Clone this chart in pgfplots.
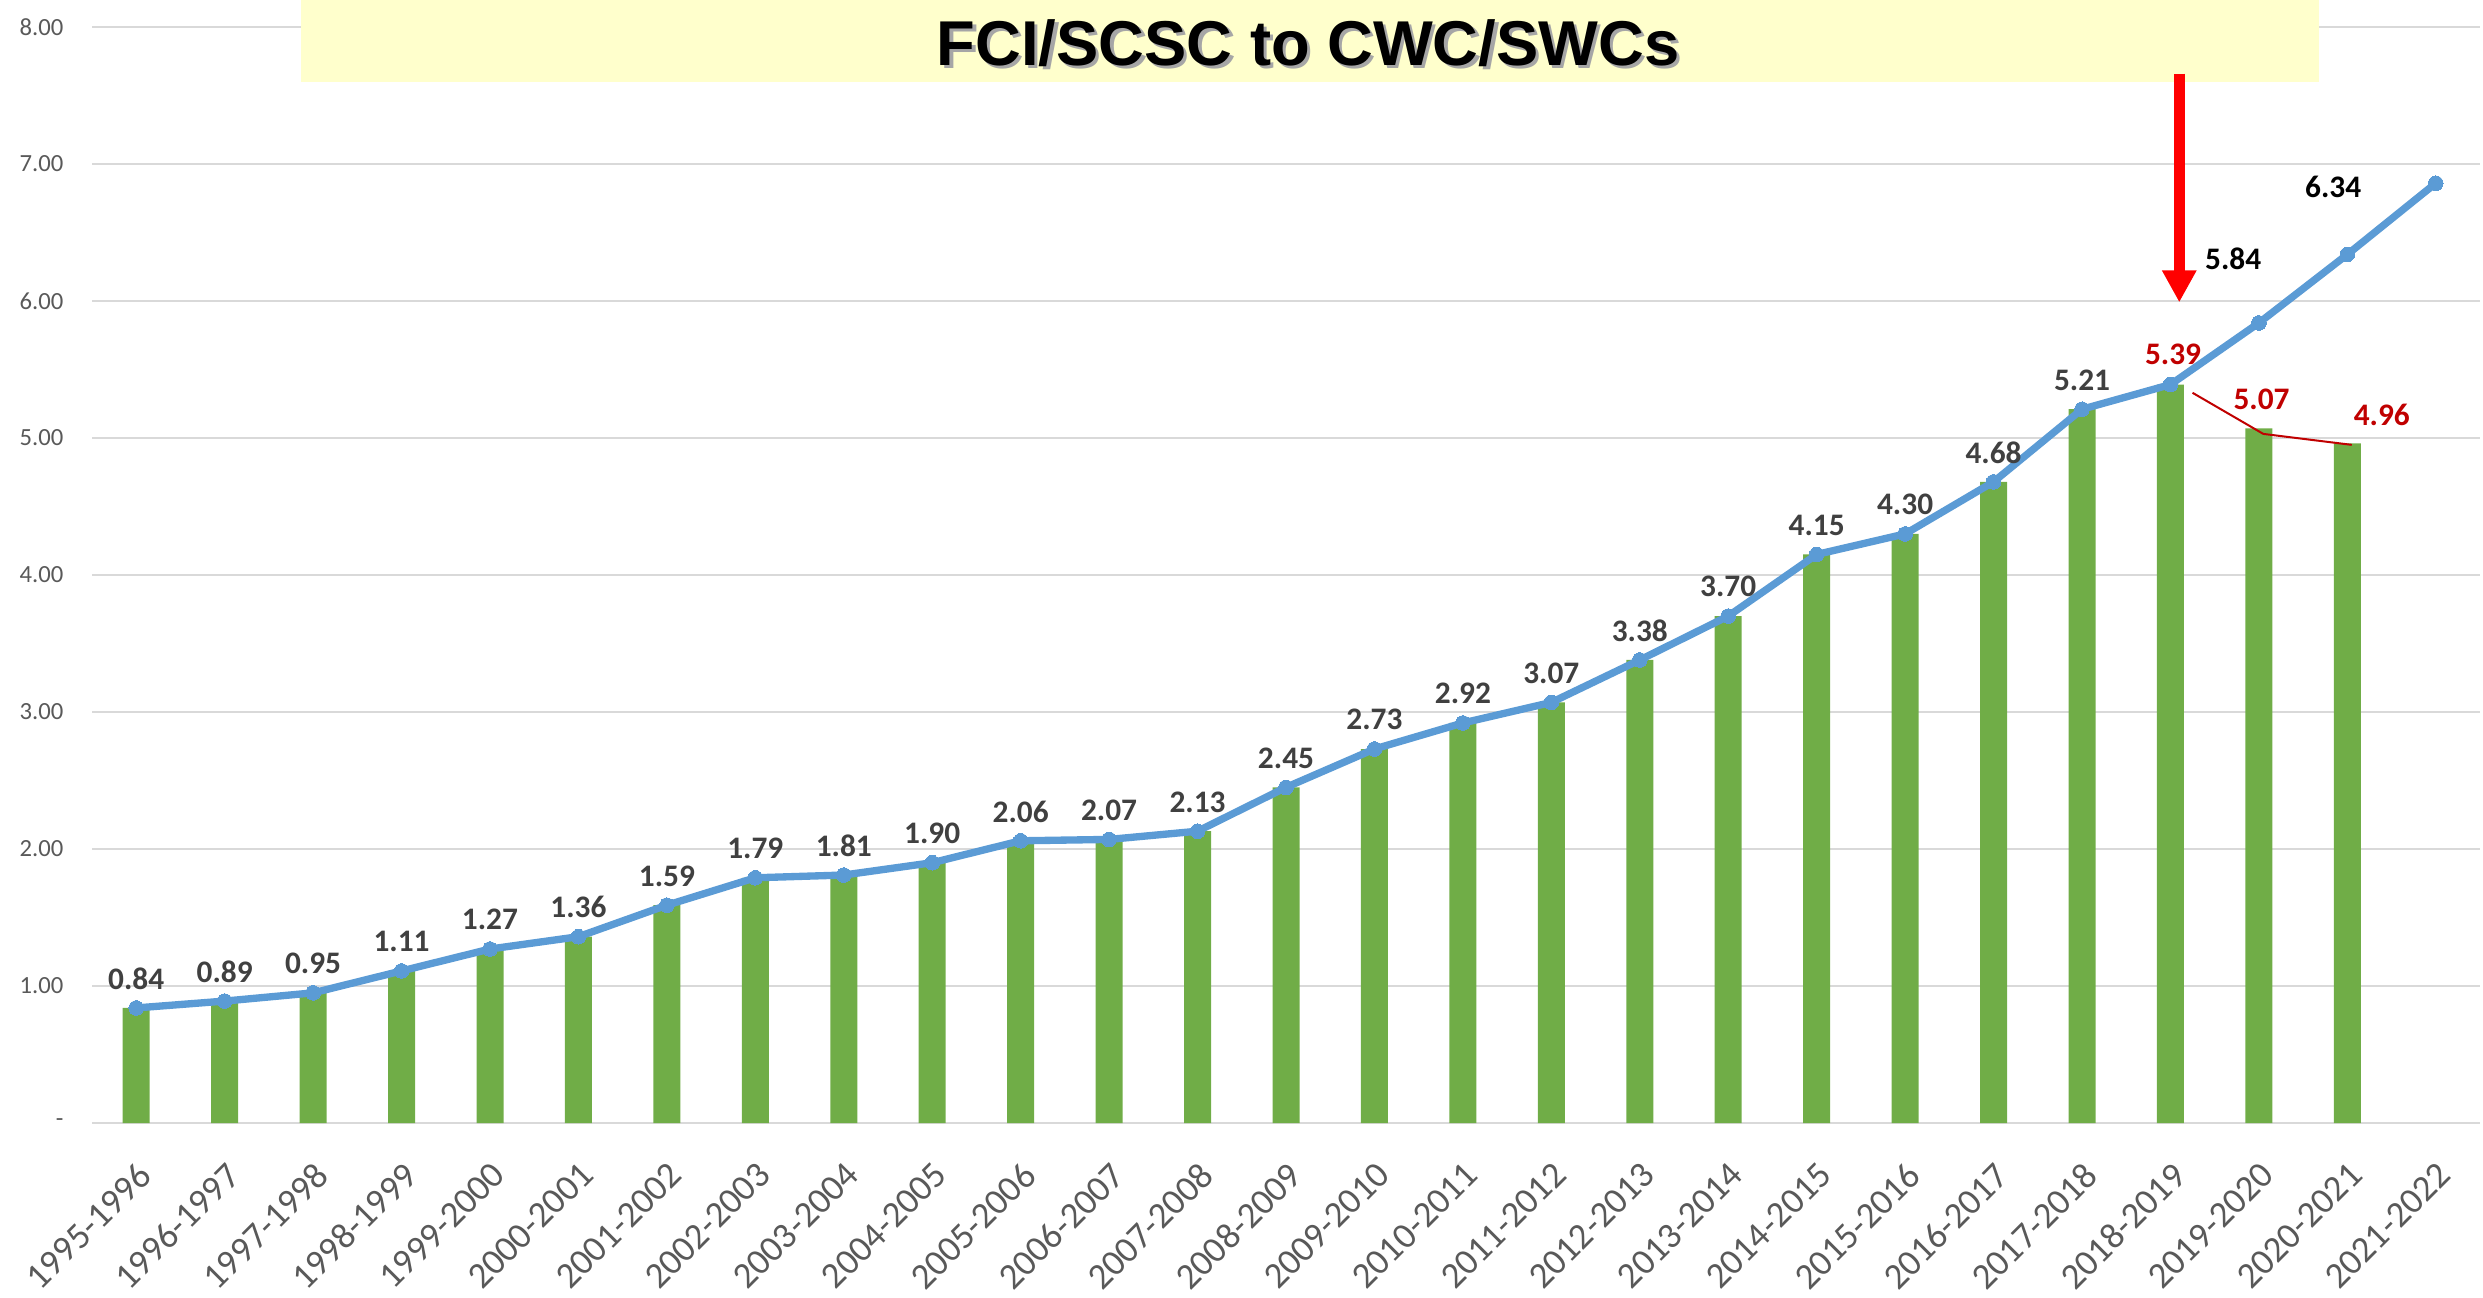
\documentclass[border=0pt]{standalone}
\usepackage{pgfplots}
\pgfplotsset{compat=1.18}
\usepackage{fontspec}
\setmainfont{Carlito}
\newfontfamily\arialfont{Liberation Sans}
\usetikzlibrary{arrows.meta}
\definecolor{barg}{HTML}{70AD47}
\definecolor{lineb}{HTML}{5B9BD5}
\definecolor{gridc}{HTML}{D9D9D9}
\definecolor{tickc}{HTML}{595959}
\definecolor{labc}{HTML}{404040}
\definecolor{redl}{HTML}{C00000}
\definecolor{bannery}{HTML}{FFFFCC}
\begin{document}
\begin{tikzpicture}
\clip (-27.6pt,-52.2pt) rectangle (717.3pt,336.9pt);
\begin{axis}[
  at={(0,0)}, anchor=south west,
  scale only axis, width=716.4pt, height=328.8pt,
  xmin=-0.5, xmax=26.5, ymin=0, ymax=8,
  clip=false,
  axis line style={draw=none},
  major tick length=0pt,
  ymajorgrids, grid style={gridc, line width=0.6pt},
  ytick={0,1,2,3,4,5,6,7,8},
  yticklabels={{-\hspace{4pt}},1.00,2.00,3.00,4.00,5.00,6.00,7.00,8.00},
  yticklabel style={font=\fontsize{7.4}{8}\selectfont, text=tickc, anchor=east, inner sep=0pt, xshift=-8.4pt},
  xtick={0,...,26},
  xticklabels={1995-1996,1996-1997,1997-1998,1998-1999,1999-2000,2000-2001,2001-2002,2002-2003,2003-2004,2004-2005,2005-2006,2006-2007,2007-2008,2008-2009,2009-2010,2010-2011,2011-2012,2012-2013,2013-2014,2014-2015,2015-2016,2016-2017,2017-2018,2018-2019,2019-2020,2020-2021,2021-2022},
  xticklabel style={font=\fontsize{11}{13}\selectfont, text=tickc, rotate=45, anchor=north east, inner sep=0pt},
  xticklabel shift=11pt,
]
% bars
\addplot[ybar, bar width=8.1pt, fill=barg, draw=none] coordinates {
(0,0.84) (1,0.89) (2,0.95) (3,1.11) (4,1.27) (5,1.36) (6,1.59) (7,1.79) (8,1.81) (9,1.90)
(10,2.06) (11,2.07) (12,2.13) (13,2.45) (14,2.73) (15,2.92) (16,3.07) (17,3.38) (18,3.70)
(19,4.15) (20,4.30) (21,4.68) (22,5.21) (23,5.39) (24,5.07) (25,4.96)};
% red decline line
\addplot[redl, line width=0.6pt] coordinates {(23.25,5.33) (24.05,5.03) (25.05,4.95)};
% blue line
\addplot[lineb, line width=2.2pt, mark=*, mark size=2.2pt, mark options={fill=lineb, draw=lineb, line width=0pt}] coordinates {
(0,0.84) (1,0.89) (2,0.95) (3,1.11) (4,1.27) (5,1.36) (6,1.59) (7,1.79) (8,1.81) (9,1.90)
(10,2.06) (11,2.07) (12,2.13) (13,2.45) (14,2.73) (15,2.92) (16,3.07) (17,3.38) (18,3.70)
(19,4.15) (20,4.30) (21,4.68) (22,5.21) (23,5.39) (24,5.84) (25,6.34) (26,6.86)};
% gray labels
\addplot[draw=none, mark=none, nodes near coords, point meta=explicit symbolic,
  nodes near coords style={font=\bfseries\fontsize{9.4}{11}\selectfont, text=labc, anchor=center, yshift=8.8pt}] coordinates {
(0,0.84)[0.84] (1,0.89)[0.89] (2,0.95)[0.95] (3,1.11)[1.11] (4,1.27)[1.27] (5,1.36)[1.36] (6,1.59)[1.59] (7,1.79)[1.79] (8,1.81)[1.81] (9,1.90)[1.90]
(10,2.06)[2.06] (11,2.07)[2.07] (12,2.13)[2.13] (13,2.45)[2.45] (14,2.73)[2.73] (15,2.92)[2.92] (16,3.07)[3.07] (17,3.38)[3.38] (18,3.70)[3.70]
(19,4.15)[4.15] (20,4.30)[4.30] (21,4.68)[4.68] (22,5.21)[5.21]};
% red labels
\node[font=\bfseries\fontsize{9.4}{11}\selectfont, text=redl] at (axis cs:23.03,5.61) {5.39};
\node[font=\bfseries\fontsize{9.4}{11}\selectfont, text=redl] at (axis cs:24.03,5.28) {5.07};
\node[font=\bfseries\fontsize{9.4}{11}\selectfont, text=redl] at (axis cs:25.39,5.17) {4.96};
% black labels
\node[font=\bfseries\fontsize{9.4}{11}\selectfont, text=black] at (axis cs:23.71,6.31) {5.84};
\node[font=\bfseries\fontsize{9.4}{11}\selectfont, text=black] at (axis cs:24.84,6.83) {6.34};
% banner
\fill[bannery] (axis cs:1.864,7.60) rectangle (axis cs:24.68,9.2);
\node[font=\arialfont\bfseries\fontsize{19}{22}\selectfont, text=black!35, anchor=base] at ([xshift=1pt,yshift=-1pt]axis cs:13.25,7.72) {FCI/SCSC to CWC/SWCs};
\node[font=\arialfont\bfseries\fontsize{19}{22}\selectfont, text=black, anchor=base] at (axis cs:13.25,7.72) {FCI/SCSC to CWC/SWCs};
% red arrow
\draw[red, line width=3.3pt, -{Triangle[length=9.6pt,width=9.7pt]}] (axis cs:23.1,7.66) -- (axis cs:23.1,5.99);
\end{axis}
\end{tikzpicture}
\end{document}
